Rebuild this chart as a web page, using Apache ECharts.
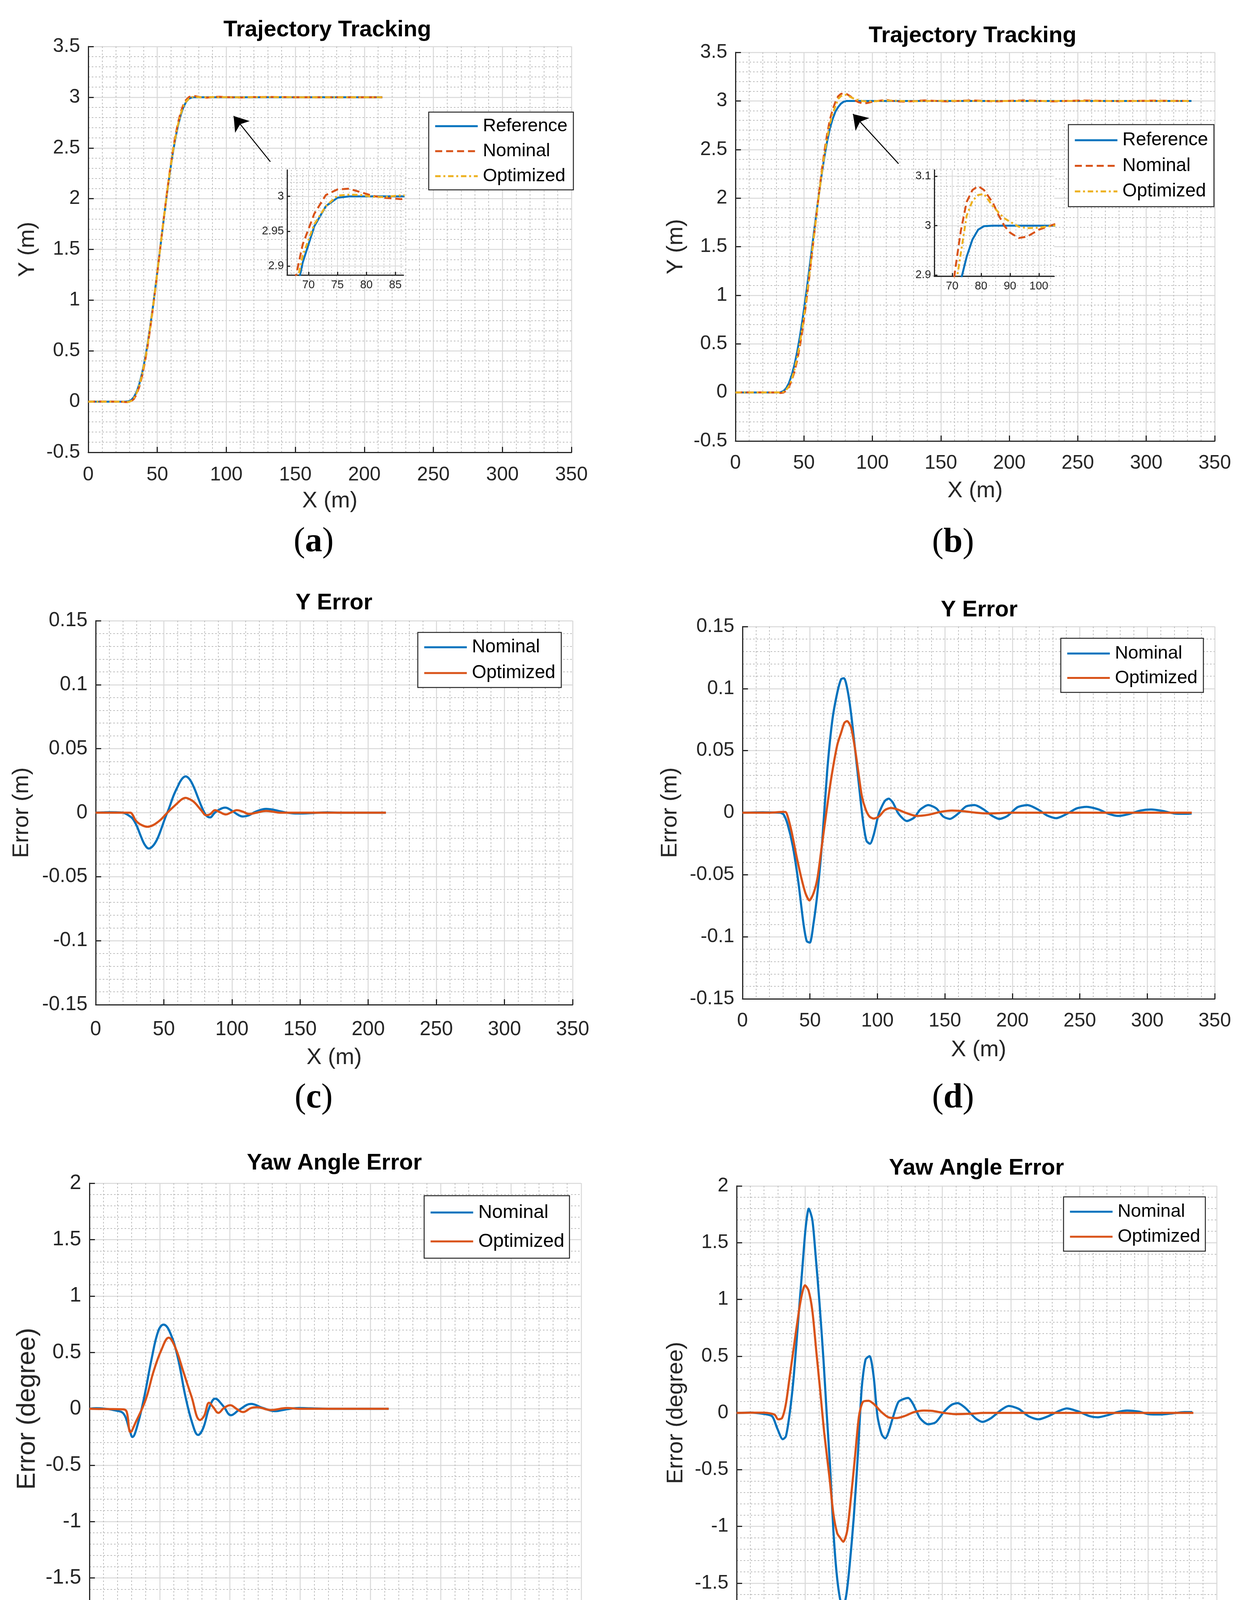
<!DOCTYPE html>
<html>
<head>
<meta charset="utf-8">
<script src="https://cdn.jsdelivr.net/npm/echarts/dist/echarts.min.js"></script>
<style>
  html, body { margin: 0; padding: 0; background: #fff; }
  #main { width: 3208px; height: 4506px; }
</style>
</head>
<body>
<div id="main"></div>
<script>
// ---- (a) trajectory, short run ----
const xA = [0, 10, 20, 25, 27, 29, 31, 33, 35, 37, 39, 41, 43, 45, 47, 49, 51, 53, 55, 57, 59, 61, 63, 65, 67, 69, 71, 73, 75, 77,
  79, 81, 83, 86, 90, 95, 100, 110, 120, 130, 150, 180, 213];
const refA = [0, 0, 0, 0, 0, 0.002, 0.014, 0.043, 0.095, 0.174, 0.280, 0.413, 0.572, 0.753, 0.952, 1.166, 1.388, 1.612, 1.834, 2.048,
  2.247, 2.428, 2.587, 2.720, 2.826, 2.905, 2.957, 2.986, 2.998, 3,
  3, 3, 3, 3, 3, 3, 3, 3, 3, 3, 3, 3, 3];
const nomA = [0, 0.0003, 0, -0.002, -0.004, -0.005, 0.002, 0.025, 0.072, 0.148, 0.252, 0.386, 0.547, 0.732, 0.936, 1.156, 1.384, 1.614,
  1.841, 2.061, 2.265, 2.450, 2.613, 2.748, 2.854, 2.931, 2.975, 3.002, 3.010, 3.011,
  3.006, 3.001, 2.998, 2.996, 3.002, 3.004, 3.0005, 2.997, 3.001, 3.0025, 2.9995, 3, 3];
const optA = [0, 0, 0, 0, -0.001, -0.004, 0.0055, 0.033, 0.084, 0.163, 0.269, 0.403, 0.5635, 0.746, 0.946, 1.162, 1.3865, 1.6125,
  1.8365, 2.0525, 2.2535, 2.4365, 2.5975, 2.7316, 2.8373, 2.915, 2.96, 2.986, 3.001, 3.0025,
  3.002, 2.9994, 2.999, 3.0015, 3.001, 2.9986, 3.0005, 2.9995, 3.001, 3.0008, 3, 3, 3];

// ---- (b) trajectory, long run ----
const xB = [0, 10, 20, 29, 31, 33, 35, 37, 39, 41, 43, 45, 47, 49, 51, 53, 55, 57, 59, 61, 63, 65, 67, 69, 71, 73, 75, 77, 79, 81,
  84, 86, 88, 90, 93, 96, 100, 105, 110, 115, 122, 128, 138, 154, 172, 190, 211, 232, 255, 279, 303, 333];
const refB = [0, 0, 0, 0, 0, 0.002, 0.014, 0.043, 0.095, 0.174, 0.280, 0.413, 0.572, 0.753, 0.952, 1.166, 1.388, 1.612, 1.834, 2.048,
  2.247, 2.428, 2.587, 2.720, 2.815, 2.89, 2.937, 2.972, 2.992, 2.999,
  3, 3, 3, 3, 3, 3, 3, 3, 3, 3, 3, 3, 3, 3, 3, 3, 3, 3, 3, 3, 3, 3];
const nomB = [0, 0.0002, 0.0003, -0.0005, -0.002, -0.006, -0.002, 0.018, 0.055, 0.121, 0.21, 0.325, 0.472, 0.6485, 0.853, 1.079, 1.319,
  1.565, 1.81, 2.053, 2.283, 2.486, 2.664, 2.81, 2.91, 2.99, 3.048, 3.072, 3.08, 3.072,
  3.047, 3.022, 3.0, 2.986, 2.975, 2.978, 2.992, 3.002, 3.011, 2.999, 2.993, 2.996, 3.006, 2.995, 3.006, 2.995, 3.006, 2.9956,
  3.0047, 2.9974, 3.0026, 2.9994];
const optB = [0, 0, 0, 0.0005, 0.0006, 0, 0.005, 0.025, 0.065, 0.133, 0.23, 0.355, 0.507, 0.683, 0.883, 1.103, 1.333, 1.572, 1.808,
  2.039, 2.257, 2.451, 2.623, 2.766, 2.87, 2.945, 3.02, 3.05, 3.062, 3.064,
  3.04, 3.027, 3.015, 3.008, 2.998, 2.995, 2.996, 3.0, 3.0038, 3.0028, 2.9997, 2.9974, 2.9983, 3.0015, 3.0, 2.9994, 3, 3, 3, 3, 3, 3];

// ---- (c) Y error, short run  [x, error m] ----
const nomErrC = [[0, 0], [5, 0.0002], [10, 0.0004], [15, 0.0003], [20, 0], [24, -0.002], [27, -0.0045], [30, -0.01], [33, -0.018],
  [36, -0.025], [39, -0.028], [42, -0.026], [45, -0.021], [48, -0.013], [51, -0.004], [54, 0.004], [57, 0.013], [60, 0.02],
  [63, 0.026], [66, 0.0284], [69, 0.026], [72, 0.02], [75, 0.012], [78, 0.004], [81, -0.002], [84, -0.0037], [87, -0.0005],
  [90, 0.002], [95, 0.004], [100, 0.0015], [105, -0.002], [108, -0.003], [112, -0.0022], [117, 0.0006], [121, 0.0022],
  [125, 0.003], [130, 0.0024], [135, 0.0012], [140, 0.0001], [145, -0.0005], [152, -0.0006], [160, -0.0002], [170, 0.0002],
  [180, 0], [213, 0]];
const optErrC = [[0, 0], [20, 0], [25.5, 0], [27, -0.0015], [29, -0.0055], [31, -0.0078], [34, -0.0098], [38, -0.011], [42, -0.0098],
  [45, -0.0078], [48, -0.0052], [51, -0.0018], [54, 0.0015], [57, 0.0045], [60, 0.0075], [63, 0.0103], [66, 0.0116], [69, 0.0105],
  [72, 0.0085], [75, 0.005], [78, 0.0012], [81, -0.002], [84, -0.0012], [87.6, 0.002], [91, 0.0005], [95.5, -0.0014], [99, 0],
  [103.7, 0.002], [108, 0.0008], [112.5, -0.001], [118, 0], [125, 0.0014], [130, 0.0008], [135, 0], [213, 0]];

// ---- (d) Y error, long run ----
const nomErrD = [[0, 0], [10, 0.0002], [15, 0.0003], [20, 0.0002], [28, 0], [30.5, -0.0015], [33.5, -0.0096], [37.3, -0.027],
  [41.4, -0.056], [45.2, -0.0895], [47.6, -0.1035], [49.9, -0.1047], [52.6, -0.0895], [55.5, -0.065], [59, -0.024], [62.8, 0.034],
  [66.6, 0.0747], [70.2, 0.0965], [73.1, 0.1076], [75.2, 0.1084], [77.8, 0.099], [80.4, 0.0805], [83.4, 0.0515], [86.3, 0.0224],
  [89.3, -0.0067], [91.9, -0.0227], [94.5, -0.025], [97.2, -0.018], [101, -0.0009], [105.4, 0.0093], [108.3, 0.0113],
  [111.3, 0.0084], [115.7, -0.0009], [121.8, -0.0067], [127.4, -0.0038], [131.8, 0.0026], [137.7, 0.0061], [143.6, 0.0035],
  [148.9, -0.0032], [153.8, -0.005], [159.7, -0.0009], [165.6, 0.005], [172, 0.0061], [178.8, 0.0026], [184.7, -0.0023],
  [190.5, -0.005], [196.4, -0.0026], [203.8, 0.0044], [211.1, 0.0061], [219.9, 0.002], [225.8, -0.0023], [232.5, -0.0044],
  [240.5, -0.0009], [247.8, 0.0035], [255.1, 0.0047], [263.9, 0.0026], [271.3, -0.0009], [278.6, -0.0026], [286, -0.0012],
  [294.8, 0.0017], [302.7, 0.0026], [311, 0.0015], [319.8, -0.0006], [328.5, -0.0009], [332.9, -0.0006]];
const optErrD = [[0, 0], [20, 0], [30, 0.0006], [32, 0.0005], [33.5, -0.003], [36.4, -0.0154], [40.2, -0.036], [43.7, -0.053],
  [46.7, -0.065], [49.6, -0.0707], [52.6, -0.065], [55.5, -0.053], [58.4, -0.03], [62, -0.0009], [65.8, 0.028], [70.2, 0.0544],
  [73.1, 0.0645], [75.5, 0.0724], [77.5, 0.0738], [80.4, 0.069], [83.4, 0.0515], [85.7, 0.034], [88.4, 0.0137], [91.3, 0.0026],
  [94.2, -0.0032], [97.2, -0.0047], [101, -0.0032], [105.4, 0.002], [109.8, 0.0038], [114.2, 0.0029], [121.5, -0.0003],
  [128.9, -0.0026], [137.7, -0.0017], [146.5, 0.0006], [155.3, 0.0017], [164.1, 0.0012], [172.9, 0], [181.7, -0.0006],
  [200, 0], [333, 0]];

// ---- (e) yaw error, short run  [x, error deg] ----
const nomErrE = [[0, 0], [5, 0.005], [10, 0.002], [18.7, -0.015], [24.4, -0.045], [28.6, -0.19], [30.6, -0.25], [34.3, -0.14],
  [39.1, 0.11], [44.2, 0.44], [49, 0.69], [52.7, 0.746], [56.9, 0.69], [62.6, 0.47], [68.3, 0.11], [73.4, -0.136], [77.3, -0.232],
  [81, -0.17], [85.2, 0.007], [89.5, 0.09], [95.2, 0.025], [100.8, -0.057], [106.5, -0.01], [115, 0.043], [123.5, 0.007],
  [132, -0.021], [140.5, -0.004], [149, 0.007], [157.5, 0.004], [170, 0], [213, 0]];
const optErrE = [[0, 0], [10, -0.002], [24.4, -0.005], [26.6, -0.03], [29.2, -0.207], [32.9, -0.12], [40, 0.08], [45.6, 0.33],
  [51.3, 0.525], [56.4, 0.63], [61.2, 0.54], [66.8, 0.33], [72.5, 0.114], [78.7, -0.1], [81.6, -0.064], [85.2, 0.054],
  [88.1, 0.014], [91.8, -0.036], [95.7, 0.007], [100.2, 0.032], [105.1, -0.004], [109.3, -0.029], [115, 0.007], [119.2, 0.014],
  [129.1, -0.011], [140.5, 0.007], [150, 0], [213, 0]];

// ---- (f) yaw error, long run ----
const nomErrF = [[0, 0], [10, 0.003], [20.1, -0.01], [25.9, -0.03], [29.6, -0.136], [33.6, -0.232], [35.9, -0.207], [38.8, 0.007],
  [41.7, 0.33], [45.2, 0.864], [48, 1.29], [50.3, 1.63], [52.6, 1.8], [55.2, 1.7], [57.5, 1.4], [60.4, 0.97], [63.3, 0.47],
  [65.6, 0.007], [68.2, -0.49], [70.5, -1.03], [72.8, -1.4], [75.4, -1.64], [77.7, -1.71], [80, -1.6], [82.5, -1.33],
  [85.4, -0.92], [88.3, -0.39], [91.2, 0.22], [94, 0.47], [96.9, 0.5], [99.8, 0.33], [102.7, -0.03], [105.8, -0.19],
  [108.4, -0.225], [110.7, -0.17], [114.2, -0.03], [117.9, 0.096], [121.4, 0.121], [125.1, 0.132], [128.6, 0.079],
  [133.7, -0.046], [139.5, -0.1], [145.2, -0.082], [151, 0.007], [156.7, 0.071], [161.1, 0.086], [166.8, 0.043], [174, -0.046],
  [179.2, -0.079], [185.5, -0.046], [192.7, 0.025], [198.4, 0.061], [205.6, 0.036], [212.8, -0.029], [220, -0.057],
  [227.2, -0.029], [234.4, 0.014], [240.7, 0.04], [248.8, 0.014], [257.4, -0.029], [263.2, -0.039], [270.3, -0.021],
  [277.5, 0.007], [284.7, 0.021], [293.4, 0.011], [300.5, -0.011], [309.2, -0.014], [317.8, -0.004], [326.4, 0.007],
  [332.2, 0.007]];
const optErrF = [[0, 0], [10, 0.002], [20, 0.002], [24.4, -0.004], [27.9, -0.018], [30.2, -0.057], [33.1, -0.046], [35.9, 0.079],
  [38.8, 0.33], [41.7, 0.58], [45.2, 0.88], [47.5, 1.04], [49.8, 1.125], [52.4, 1.08], [55.2, 0.9], [58.1, 0.54], [61, 0.186],
  [63.8, -0.17], [67.6, -0.56], [70.5, -0.886], [73.3, -1.06], [75.4, -1.1], [77.7, -1.136], [80.5, -1.046], [83.4, -0.74],
  [86.3, -0.386], [89.2, -0.029], [92, 0.096], [96.3, 0.107], [100.7, 0.071], [105, 0.014], [110.7, -0.039], [116.5, -0.046],
  [122.2, -0.029], [129.4, 0.007], [136.6, 0.021], [142.4, 0.018], [151, 0], [159.6, -0.011], [171.1, -0.007], [179.8, 0],
  [333, 0]];

// arrow annotations (data coords: from -> to)
const arrowA = [[131.9, 2.364], [105.3, 2.815]];
const arrowB = [[119.1, 2.354], [85.8, 2.865]];

const FONT = 'Liberation Sans';
const INK = '#262626';
const BLUE = '#0072BD', RED = '#D95319', YEL = '#EDB120';
const DASH = [18, 10], DASHDOT = [14, 7, 5, 7];

const zip = (xs, ys) => xs.map((x, i) => [x, ys[i]]);

// panel layout: grid box, title/letter positions, label gaps
const panels = [
  { grid: [226, 119, 1237, 1039], title: 'Trajectory Tracking', tx: 838, ty: 77, letter: 'a', lx: 803, ly: 1388,
    yName: 'Y (m)', yMin: -0.5, yMax: 3.5, yInt: 0.5, xGap: 96, xMargin: 33, yGap: 126, tick: 50, nameFs: 58, yNameFs: 58 },
  { grid: [1883, 134, 1227, 995], title: 'Trajectory Tracking', tx: 2490, ty: 92, letter: 'b', lx: 2440, ly: 1390,
    yName: 'Y (m)', yMin: -0.5, yMax: 3.5, yInt: 0.5, xGap: 99, xMargin: 32, yGap: 123, tick: 50, nameFs: 58, yNameFs: 58 },
  { grid: [245, 1589, 1221, 983], title: 'Y Error', tx: 855, ty: 1544, letter: 'c', lx: 803, ly: 2812,
    yName: 'Error (m)', yMin: -0.15, yMax: 0.15, yInt: 0.05, xGap: 107, xMargin: 38, yGap: 160, tick: 51, nameFs: 58, yNameFs: 58 },
  { grid: [1901, 1604, 1209, 953], title: 'Y Error', tx: 2507, ty: 1562, letter: 'd', lx: 2440, ly: 2812,
    yName: 'Error (m)', yMin: -0.15, yMax: 0.15, yInt: 0.05, xGap: 102, xMargin: 32, yGap: 156, tick: 50, nameFs: 58, yNameFs: 58 },
  { grid: [229, 3029, 1259, 1155], title: 'Yaw Angle Error', tx: 856, ty: 2978, letter: 'e', lx: 803, ly: 4444,
    yName: 'Error (degree)', yMin: -2, yMax: 2, yInt: 0.5, xGap: 120, xMargin: 40, yGap: 125, tick: 53, nameFs: 60, yNameFs: 66 },
  { grid: [1886, 3036, 1229, 1162], title: 'Yaw Angle Error', tx: 2500, ty: 2991, letter: 'f', lx: 2440, ly: 4444,
    yName: 'Error (degree)', yMin: -2, yMax: 2, yInt: 0.5, xGap: 101, xMargin: 36, yGap: 126, tick: 50, nameFs: 58, yNameFs: 58 }
];

const insets = [
  { grid: [735, 435, 298, 269], xMin: 66.3, xMax: 86.4, xSplit: 4, yMin: 2.887, yMax: 3.038, ySplit: 3 },
  { grid: [2392, 435, 307, 272], xMin: 63.8, xMax: 105.3, xSplit: 4, yMin: 2.898, yMax: 3.1126, ySplit: 2 }
];

const majorGrid = { show: true, lineStyle: { color: '#d9d9d9', width: 2.5 } };
const minorGrid = { show: true, lineStyle: { color: '#bdbdbd', width: 2, type: [4, 5] } };

const grids = [], xAxes = [], yAxes = [], titles = [];
panels.forEach((p, i) => {
  grids.push({ left: p.grid[0], top: p.grid[1], width: p.grid[2], height: p.grid[3], containLabel: false });
  xAxes.push({
    gridIndex: i, type: 'value', min: 0, max: 350, interval: 50,
    name: 'X (m)', nameLocation: 'middle', nameGap: p.xGap,
    nameTextStyle: { fontFamily: FONT, fontSize: p.nameFs, color: INK },
    axisLine: { show: true, onZero: false, lineStyle: { color: INK, width: 3 } },
    axisTick: { show: true, inside: true, length: 14, lineStyle: { color: INK, width: 3 } },
    axisLabel: { fontFamily: FONT, fontSize: p.tick, color: INK, margin: p.xMargin },
    splitLine: majorGrid,
    minorTick: { show: false, splitNumber: 5 },
    minorSplitLine: minorGrid
  });
  yAxes.push({
    gridIndex: i, type: 'value', min: p.yMin, max: p.yMax, interval: p.yInt,
    name: p.yName, nameLocation: 'middle', nameRotate: 90, nameGap: p.yGap,
    nameTextStyle: { fontFamily: FONT, fontSize: p.yNameFs, color: INK },
    axisLine: { show: true, onZero: false, lineStyle: { color: INK, width: 3 } },
    axisTick: { show: true, inside: true, length: 14, lineStyle: { color: INK, width: 3 } },
    axisLabel: { fontFamily: FONT, fontSize: p.tick, color: INK, margin: 21 },
    splitLine: majorGrid,
    minorTick: { show: false, splitNumber: 5 },
    minorSplitLine: minorGrid
  });
  titles.push({
    text: p.title, left: p.tx, top: p.ty, padding: 0,
    textAlign: 'center', textVerticalAlign: 'middle',
    textStyle: { fontFamily: FONT, fontSize: 58, fontWeight: 'bold', color: '#000' }
  });
  // sub-figure letter: plain parentheses, bold letter
  titles.push({
    text: '{p|(}{b|' + p.letter + '}{p|)}', left: p.lx, top: p.ly, padding: 0,
    textAlign: 'center', textVerticalAlign: 'middle',
    textStyle: {
      fontWeight: 'normal',
      rich: {
        p: { fontFamily: 'Liberation Serif', fontSize: 88, fontWeight: 'normal', color: '#000' },
        b: { fontFamily: 'Liberation Serif', fontSize: 88, fontWeight: 'bold', color: '#000' }
      }
    }
  });
});

insets.forEach((s, k) => {
  const gi = 6 + k;
  grids.push({ left: s.grid[0], top: s.grid[1], width: s.grid[2], height: s.grid[3], containLabel: false,
    show: true, backgroundColor: '#fff', borderWidth: 0, z: 1 });
  const common = {
    gridIndex: gi, type: 'value', z: 1,
    axisLine: { show: true, onZero: false, lineStyle: { color: INK, width: 3 } },
    axisTick: { show: true, inside: true, length: 8, lineStyle: { color: INK, width: 3 } },
    splitLine: { show: true, showMaxLine: false, lineStyle: { color: '#d9d9d9', width: 2 } },
    minorTick: { show: false, splitNumber: 5 },
    minorSplitLine: { show: true, lineStyle: { color: '#bdbdbd', width: 2, type: [3, 5] } }
  };
  xAxes.push(Object.assign({}, common, {
    min: s.xMin, max: s.xMax, splitNumber: s.xSplit,
    axisLabel: { fontFamily: FONT, fontSize: 29, color: INK, margin: 11, showMinLabel: false, showMaxLabel: false }
  }));
  yAxes.push(Object.assign({}, common, {
    min: s.yMin, max: s.yMax, splitNumber: s.ySplit,
    axisLabel: { fontFamily: FONT, fontSize: 29, color: INK, margin: 8, showMinLabel: false, showMaxLabel: false }
  }));
});

function line(name, data, color, idx, dash, width, extra) {
  return Object.assign({
    type: 'line', name: name, data: data, xAxisIndex: idx, yAxisIndex: idx,
    symbol: 'none', showSymbol: false, silent: true, animation: false,
    itemStyle: { color: color },
    lineStyle: { color: color, width: width || 5, type: dash || 'solid' },
    emphasis: { disabled: true },
    z: idx >= 6 ? 3 : 2
  }, extra || {});
}

function arrow(pts) {
  return {
    silent: true, animation: false, symbol: ['none', 'arrow'], symbolSize: 36,
    label: { show: false },
    lineStyle: { color: '#000', width: 2.5, type: 'solid' },
    data: [[{ coord: pts[0] }, { coord: pts[1] }]]
  };
}

const soft = { smooth: 0.4 };
const series = [
  line('Reference', zip(xA, refA), BLUE, 0, null, 5, { markLine: arrow(arrowA) }),
  line('Nominal', zip(xA, nomA), RED, 0, DASH, 5),
  line('Optimized', zip(xA, optA), YEL, 0, DASHDOT, 5),
  line('Reference', zip(xB, refB), BLUE, 1, null, 5, { markLine: arrow(arrowB) }),
  line('Nominal', zip(xB, nomB), RED, 1, DASH, 5),
  line('Optimized', zip(xB, optB), YEL, 1, DASHDOT, 5),
  line('Nominal#', nomErrC, BLUE, 2, null, 5.5, soft),
  line('Optimized#', optErrC, RED, 2, null, 5.5, soft),
  line('Nominal#', nomErrD, BLUE, 3, null, 5.5, { smooth: 0.25 }),
  line('Optimized#', optErrD, RED, 3, null, 5.5, { smooth: 0.25 }),
  line('Nominal#', nomErrE, BLUE, 4, null, 5.5, soft),
  line('Optimized#', optErrE, RED, 4, null, 5.5, soft),
  line('Nominal#', nomErrF, BLUE, 5, null, 5.5, { smooth: 0.25 }),
  line('Optimized#', optErrF, RED, 5, null, 5.5, { smooth: 0.25 }),
  // zoomed insets
  line('Reference', zip(xA, refA), BLUE, 6, null, 5),
  line('Nominal', zip(xA, nomA), RED, 6, DASH, 5),
  line('Optimized', zip(xA, optA), YEL, 6, DASHDOT, 5),
  line('Reference', zip(xB, refB), BLUE, 7, null, 5),
  line('Nominal', zip(xB, nomB), RED, 7, DASH, 5),
  line('Optimized', zip(xB, optB), YEL, 7, DASHDOT, 5)
];

function legend(names, right, top, pad, gap, fs, lh) {
  return {
    orient: 'vertical', right: right, top: top, data: names,
    padding: pad, itemGap: gap, itemWidth: 109, itemHeight: 20,
    backgroundColor: '#fff', borderColor: INK, borderWidth: 2.5, borderRadius: 0,
    selectedMode: false,
    itemStyle: { opacity: 0 },
    lineStyle: { width: 5 },
    formatter: n => n.replace('#', ''),
    textStyle: { fontFamily: FONT, fontSize: fs, color: '#000', lineHeight: lh, padding: [0, 0, 0, 8] }
  };
}

const legends = [
  legend(['Reference', 'Nominal', 'Optimized'], 1740, 287, [11, 15, 10, 14], 14, 47, 50),
  legend(['Reference', 'Nominal', 'Optimized'], 100, 319, [15, 15, 14, 14], 15.5, 47.5, 50),
  legend(['Nominal#', 'Optimized#'], 1771, 1619, [13, 15, 12, 14], 16, 47.5, 50),
  legend(['Nominal#', 'Optimized#'], 127, 1634, [14, 15, 12, 14], 12.6, 47, 50),
  legend(['Nominal#', 'Optimized#'], 1750, 3061, [16, 13, 16, 14], 20, 49, 54),
  legend(['Nominal#', 'Optimized#'], 122, 3064, [13, 13, 12, 14], 14, 47, 50)
];

const chart = echarts.init(document.getElementById('main'), null, { renderer: 'canvas', width: 3208, height: 4506 });
chart.setOption({
  backgroundColor: '#fff',
  animation: false,
  textStyle: { fontFamily: FONT },
  title: titles,
  legend: legends,
  grid: grids,
  xAxis: xAxes,
  yAxis: yAxes,
  series: series
});
</script>
</body>
</html>
